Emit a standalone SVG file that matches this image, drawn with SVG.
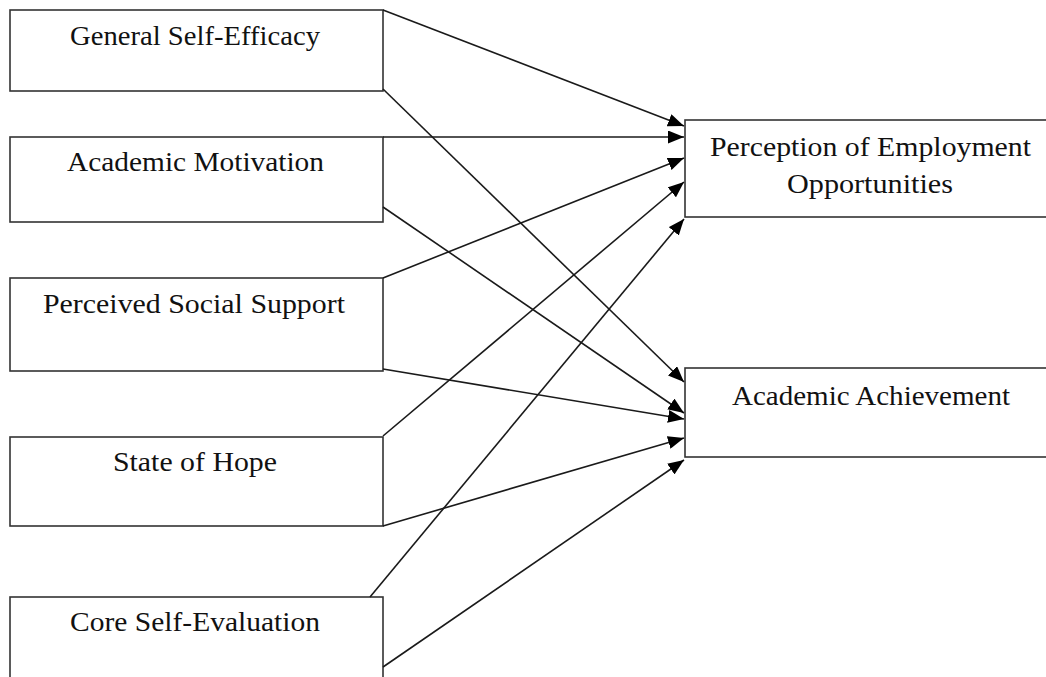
<svg xmlns="http://www.w3.org/2000/svg" width="1046" height="677" viewBox="0 0 1046 677">
<style>
.box{fill:#fff;stroke:#333;stroke-width:1.6}
.lbl{font-family:"Liberation Serif","Times New Roman",serif;font-size:27px;fill:#111;text-anchor:middle}
.conn line{stroke:#1a1a1a;stroke-width:1.6;marker-end:url(#ah)}
</style>
<defs>
<marker id="ah" markerUnits="userSpaceOnUse" markerWidth="17" markerHeight="13" refX="16" refY="6.5" orient="auto">
<path d="M0,0 L16,6.5 L0,13 z" fill="#000"/>
</marker>
</defs>
<rect width="1046" height="677" fill="#fff"/>
<g id="n-gse"><rect class="box" x="10" y="10" width="373" height="81"/><text class="lbl" x="195" y="45" textLength="250" lengthAdjust="spacingAndGlyphs">General Self-Efficacy</text></g>
<g id="n-am"><rect class="box" x="10" y="137" width="373" height="85"/><text class="lbl" x="195.5" y="171" textLength="257" lengthAdjust="spacingAndGlyphs">Academic Motivation</text></g>
<g id="n-pss"><rect class="box" x="10" y="278" width="373" height="93"/><text class="lbl" x="194" y="313" textLength="302" lengthAdjust="spacingAndGlyphs">Perceived Social Support</text></g>
<g id="n-soh"><rect class="box" x="10" y="437" width="373" height="89"/><text class="lbl" x="195" y="471" textLength="164" lengthAdjust="spacingAndGlyphs">State of Hope</text></g>
<g id="n-cse"><rect class="box" x="10" y="597" width="373" height="88"/><text class="lbl" x="195" y="631" textLength="250" lengthAdjust="spacingAndGlyphs">Core Self-Evaluation</text></g>
<g id="n-peo"><rect class="box" x="685" y="120" width="373" height="97"/><text class="lbl" x="870.5" y="156" textLength="321" lengthAdjust="spacingAndGlyphs">Perception of Employment</text><text class="lbl" x="870" y="193" textLength="166" lengthAdjust="spacingAndGlyphs">Opportunities</text></g>
<g id="n-aa"><rect class="box" x="685" y="368" width="373" height="89"/><text class="lbl" x="871" y="405" textLength="278" lengthAdjust="spacingAndGlyphs">Academic Achievement</text></g>
<g class="conn" id="connectors">
<line x1="383" y1="10" x2="684" y2="126"/>
<line x1="383" y1="89" x2="684" y2="382"/>
<line x1="383" y1="137" x2="684" y2="137"/>
<line x1="383" y1="207" x2="684" y2="413"/>
<line x1="383" y1="278" x2="684" y2="158"/>
<line x1="383" y1="369" x2="684" y2="419"/>
<line x1="383" y1="436" x2="684" y2="182"/>
<line x1="383" y1="526" x2="684" y2="438"/>
<line x1="370" y1="597" x2="684" y2="219"/>
<line x1="383" y1="667" x2="684" y2="460"/>
</g>
</svg>
